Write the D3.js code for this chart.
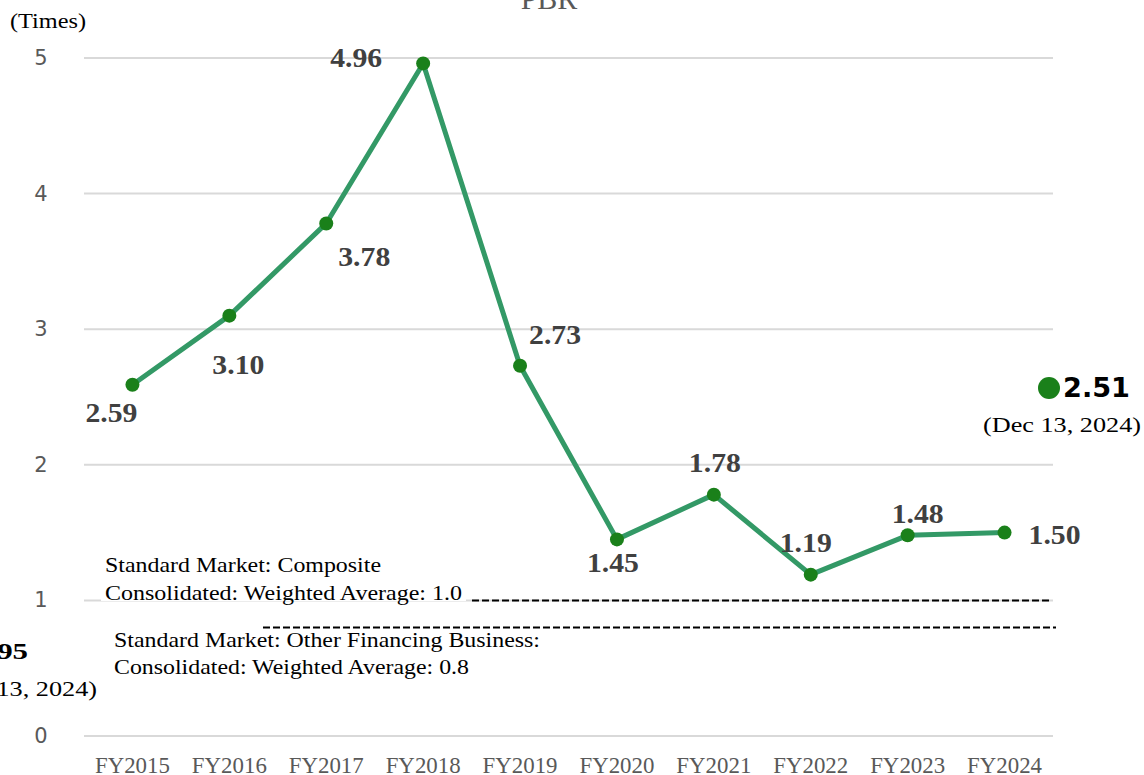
<!DOCTYPE html>
<html>
<head>
<meta charset="utf-8">
<script src="https://cdn.jsdelivr.net/npm/d3@7"></script>
<style>
  body { margin: 0; background: #fff; }
  svg { display: block; }
</style>
</head>
<body>
<div class="canvas"></div>
<script>
const years = ['FY2015', 'FY2016', 'FY2017', 'FY2018', 'FY2019', 'FY2020', 'FY2021', 'FY2022', 'FY2023', 'FY2024'];
const pbr = [2.59, 3.10, 3.78, 4.96, 2.73, 1.45, 1.78, 1.19, 1.48, 1.50];
const yTicks = [0, 1, 2, 3, 4, 5];
// label offsets relative to each point (dx, dy)
const labelOffsets = [[-21, 28], [9, 49], [38, 34], [-67, -5], [35, -31], [-4, 24], [1, -32], [-5, -32], [10, -21], [50, 2]];
const latest = { value: 2.51, date: '(Dec 13, 2024)' };
const clipped = { value: '0.95', date: '(Dec 13, 2024)' };
const refLines = [
  { value: 1.0, x1: 472, x2: 1050, text: ['Standard Market: Composite', 'Consolidated: Weighted Average: 1.0'], widths: [276, 357], tx: 105, ty: [565, 593] },
  { value: 0.8, x1: 263, x2: 1056, text: ['Standard Market: Other Financing Business:', 'Consolidated: Weighted Average: 0.8'], widths: [426, 355], tx: 114, ty: [640, 667] }
];

const W = 1144, H = 775;
const svg = d3.select('.canvas').append('svg')
  .attr('width', W).attr('height', H);

const x = d3.scalePoint().domain(years).range([84, 1053]).padding(0.5);
const y = d3.scaleLinear().domain([0, 5]).range([736, 58]);

const serif = 'Liberation Serif, Times New Roman, serif';

// title (mostly cut off at the top)
svg.append('text')
  .attr('x', 549).attr('y', 9)
  .attr('text-anchor', 'middle')
  .attr('font-family', serif)
  .attr('font-size', 30).attr('fill', '#595959')
  .text('PBR');

svg.append('text')
  .attr('x', 10).attr('y', 28)
  .attr('font-family', serif)
  .attr('font-size', 21).attr('fill', '#000')
  .attr('textLength', 76).attr('lengthAdjust', 'spacingAndGlyphs')
  .text('(Times)');

// gridlines
svg.append('g').selectAll('line').data(yTicks).join('line')
  .attr('x1', 84).attr('x2', 1053)
  .attr('y1', d => y(d)).attr('y2', d => y(d))
  .attr('stroke', '#d9d9d9').attr('stroke-width', 2);

svg.append('g').selectAll('text').data(yTicks).join('text')
  .attr('x', 41).attr('y', d => y(d) + 7)
  .attr('text-anchor', 'middle')
  .attr('font-family', 'DejaVu Sans, sans-serif')
  .attr('font-size', 21).attr('fill', '#595959')
  .text(d => d);

// x axis labels
svg.append('g').selectAll('text').data(years).join('text')
  .attr('x', d => x(d)).attr('y', 773)
  .attr('text-anchor', 'middle')
  .attr('font-family', serif)
  .attr('font-size', 23).attr('fill', '#595959')
  .attr('textLength', 75).attr('lengthAdjust', 'spacingAndGlyphs')
  .text(d => d);

// reference lines and their notes
refLines.forEach(r => {
  const g = svg.append('g');
  g.append('rect')
    .attr('x', r.tx - 4).attr('y', r.ty[0] - 18)
    .attr('width', d3.max(r.widths) + 8).attr('height', r.ty[1] - r.ty[0] + 26)
    .attr('fill', '#fff');
  g.append('line')
    .attr('x1', r.x1).attr('x2', r.x2)
    .attr('y1', y(r.value)).attr('y2', y(r.value))
    .attr('stroke', '#000').attr('stroke-width', 2)
    .attr('stroke-dasharray', '7,3');
  g.selectAll('text').data(r.text).join('text')
    .attr('x', r.tx).attr('y', (d, i) => r.ty[i] + 7)
    .attr('font-family', serif)
    .attr('font-size', 21).attr('fill', '#000')
    .attr('textLength', (d, i) => r.widths[i]).attr('lengthAdjust', 'spacingAndGlyphs')
    .text(d => d);
});

// clipped annotation on the left edge
svg.append('text')
  .attr('x', 28).attr('y', 659)
  .attr('text-anchor', 'end')
  .attr('font-family', serif)
  .attr('font-weight', 'bold')
  .attr('font-size', 24).attr('fill', '#000')
  .attr('textLength', 54).attr('lengthAdjust', 'spacingAndGlyphs')
  .text(clipped.value);
svg.append('text')
  .attr('x', 97 - 158).attr('y', 696)
  .attr('font-family', serif)
  .attr('font-size', 21).attr('fill', '#000')
  .attr('textLength', 158).attr('lengthAdjust', 'spacingAndGlyphs')
  .text(clipped.date);

// line
const line = d3.line()
  .x((d, i) => x(years[i]))
  .y(d => y(d));

svg.append('path')
  .datum(pbr)
  .attr('d', line)
  .attr('fill', 'none')
  .attr('stroke', '#339966')
  .attr('stroke-width', 5)
  .attr('stroke-linejoin', 'round');

svg.append('g').selectAll('circle').data(pbr).join('circle')
  .attr('cx', (d, i) => x(years[i]))
  .attr('cy', d => y(d))
  .attr('r', 7)
  .attr('fill', '#1a801a');

svg.append('g').selectAll('text').data(pbr).join('text')
  .attr('x', (d, i) => x(years[i]) + labelOffsets[i][0])
  .attr('y', (d, i) => y(d) + labelOffsets[i][1] + 9)
  .attr('text-anchor', 'middle')
  .attr('font-family', serif)
  .attr('font-weight', 'bold')
  .attr('font-size', 27).attr('fill', '#404040')
  .attr('textLength', 52).attr('lengthAdjust', 'spacingAndGlyphs')
  .text(d => d.toFixed(2));

// latest value on the right
svg.append('circle')
  .attr('cx', 1049).attr('cy', 388).attr('r', 11)
  .attr('fill', '#1a801a');
svg.append('text')
  .attr('x', 1063).attr('y', 397)
  .attr('font-family', 'DejaVu Sans, sans-serif')
  .attr('font-weight', 'bold')
  .attr('font-size', 26).attr('fill', '#000')
  .attr('textLength', 67).attr('lengthAdjust', 'spacingAndGlyphs')
  .text(latest.value.toFixed(2));
svg.append('text')
  .attr('x', 1141 - 158).attr('y', 432)
  .attr('font-family', serif)
  .attr('font-size', 21).attr('fill', '#000')
  .attr('textLength', 158).attr('lengthAdjust', 'spacingAndGlyphs')
  .text(latest.date);
</script>
</body>
</html>
